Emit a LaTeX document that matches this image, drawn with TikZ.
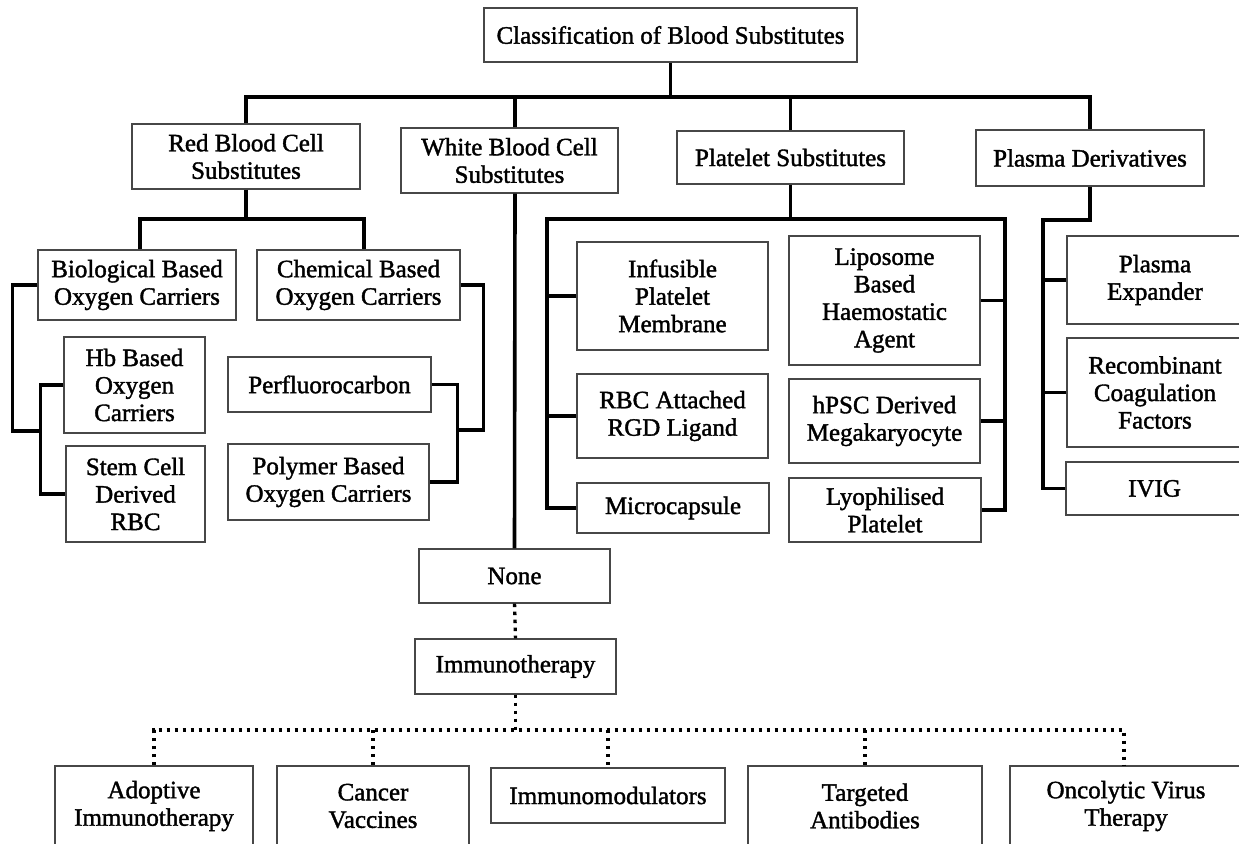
\documentclass[tikz,border=0pt]{standalone}
\usepackage{fontspec}
\newfontfamily\boxfont{Liberation Serif}[FakeBold=1.5]
\begin{document}
\begin{tikzpicture}[x=1pt,y=-1pt,
  box/.style={draw=black!72, line width=1.3pt, align=center, inner sep=0pt,
    font=\boxfont\fontsize{25}{27.5}\selectfont},
  conn/.style={draw=black, line width=3.6pt},
  dotline/.style={draw=black, line width=3.4pt, dash pattern=on 3.4pt off 4.6pt}]
\useasboundingbox (0,0) rectangle (1239,843);
\clip (0,0) rectangle (1239,843);
% level 0 and 1
\node[box, minimum width=373, minimum height=54] (top) at (670.5,35) {Classification of Blood Substitutes};
\node[box, minimum width=228, minimum height=65] (red) at (246,156.5) {Red Blood Cell\\Substitutes};
\node[box, minimum width=217, minimum height=65] (white) at (509.5,160.5) {White Blood Cell\\Substitutes};
\node[box, minimum width=227, minimum height=53] (plat) at (790.5,157.5) {Platelet Substitutes};
\node[box, minimum width=228, minimum height=56] (plasma) at (1090,158) {Plasma Derivatives};
% red blood cell branch
\node[box, minimum width=198, minimum height=70] (bio) at (137,285) {Biological Based\\Oxygen Carriers};
\node[box, minimum width=203, minimum height=70] (chem) at (358.5,285) {Chemical Based\\Oxygen Carriers};
\node[box, minimum width=141, minimum height=96] (hb) at (134.5,385) {Hb Based\\Oxygen\\Carriers};
\node[box, minimum width=139, minimum height=96] (stem) at (135.5,494) {Stem Cell\\Derived\\RBC};
\node[box, minimum width=203, minimum height=55] (perf) at (329.5,384.5) {Perfluorocarbon};
\node[box, minimum width=201, minimum height=76] (poly) at (328.5,482) {Polymer Based\\Oxygen Carriers};
% platelet branch
\node[box, minimum width=191, minimum height=108] (inf) at (672.5,296) {Infusible\\Platelet\\Membrane};
\node[box, minimum width=191, minimum height=129] (lip) at (884.5,300.5) {Liposome\\Based\\Haemostatic\\Agent};
\node[box, minimum width=191, minimum height=84] (rbc) at (672.5,416) {RBC Attached\\RGD Ligand};
\node[box, minimum width=191, minimum height=84] (hpsc) at (884.5,421) {hPSC Derived\\Megakaryocyte};
\node[box, minimum width=192, minimum height=50] (micro) at (673,508) {Microcapsule};
\node[box, minimum width=192, minimum height=64] (lyo) at (885,510) {Lyophilised\\Platelet};
% plasma branch
\node[box, minimum width=176, minimum height=88] (exp) at (1155,280) {Plasma\\Expander};
\node[box, minimum width=176, minimum height=109] (rec) at (1155,392.5) {Recombinant\\Coagulation\\Factors};
\node[box, minimum width=177, minimum height=53] (ivig) at (1154.5,488.5) {IVIG};
% white blood cell branch
\node[box, minimum width=191, minimum height=54] (none) at (514.5,576) {None};
\node[box, minimum width=201, minimum height=55] (imm) at (515.5,666.5) {Immunotherapy};
\node[box, minimum width=198, minimum height=80] (adopt) at (154,806) {Adoptive\\Immunotherapy};
\node[box, minimum width=192, minimum height=80] (cancer) at (373,806) {Cancer\\Vaccines};
\node[box, minimum width=234, minimum height=55] (immod) at (608,795.5) {Immunomodulators};
\node[box, minimum width=234, minimum height=80] (targ) at (865,806) {Targeted\\Antibodies};
\node[box, minimum width=232, minimum height=80] (onco) at (1126,806) {Oncolytic Virus\\Therapy};
% junction coordinates
\coordinate (bus) at (245,97);
\coordinate (rL) at (140,219);
\coordinate (rR) at (364,219);
\coordinate (bj) at (41,431);
\coordinate (cj) at (457,430);
\coordinate (pL) at (547,219);
\coordinate (pR) at (1005,219);
\coordinate (qL) at (1043,220);
\coordinate (dL) at (154,730);
\coordinate (dR) at (1124,730);
% top level connectors
\draw[conn] (top.south) -- (top.south |- bus);
\draw[conn] (red.north) |- (plasma.north |- bus) -- (plasma.north);
\draw[conn] ([xshift=5.5pt]white.north) -- ([xshift=5.5pt]white.north |- bus);
\draw[conn] (plat.north) -- (plat.north |- bus);
% red branch
\draw[conn] (red.south) -- (red.south |- rL);
\draw[conn] (rL |- bio.north) -- (rL) -- (rR) -- (rR |- chem.north);
\draw[conn] (bio.west) -- ++(-25,0) |- (bj);
\draw[conn] (hb.west) -- ++(-23,0) |- (stem.west);
\draw[conn] (chem.east) -- ++(23,0) |- (cj);
\draw[conn] (perf.east) -- ++(26,0) |- (poly.east);
% white branch
\draw[conn] ([xshift=5.5pt]white.south) -- (none.north);
\draw[dotline] (none.south) -- (imm.north);
\draw[dotline] (imm.south) -- (imm.south |- dL);
\draw[dotline] (adopt.north) -- (dL) -- (dR) -- (dR |- onco.north);
\draw[dotline] (cancer.north |- dL) -- (cancer.north);
\draw[dotline] (immod.north |- dL) -- (immod.north);
\draw[dotline] (targ.north |- dL) -- (targ.north);
% platelet branch
\draw[conn] (plat.south) -- (plat.south |- pL);
\draw[conn] (micro.west) -| (pL) -- (pR) |- (lyo.east);
\draw[conn] (inf.west) -- (inf.west -| pL);
\draw[conn] (rbc.west) -- (rbc.west -| pL);
\draw[conn] (lip.east) -- (lip.east -| pR);
\draw[conn] (hpsc.east) -- (hpsc.east -| pR);
% plasma branch
\draw[conn] (plasma.south) |- (qL) |- (ivig.west);
\draw[conn] (exp.west) -- (exp.west -| qL);
\draw[conn] (rec.west) -- (rec.west -| qL);
\end{tikzpicture}
\end{document}
